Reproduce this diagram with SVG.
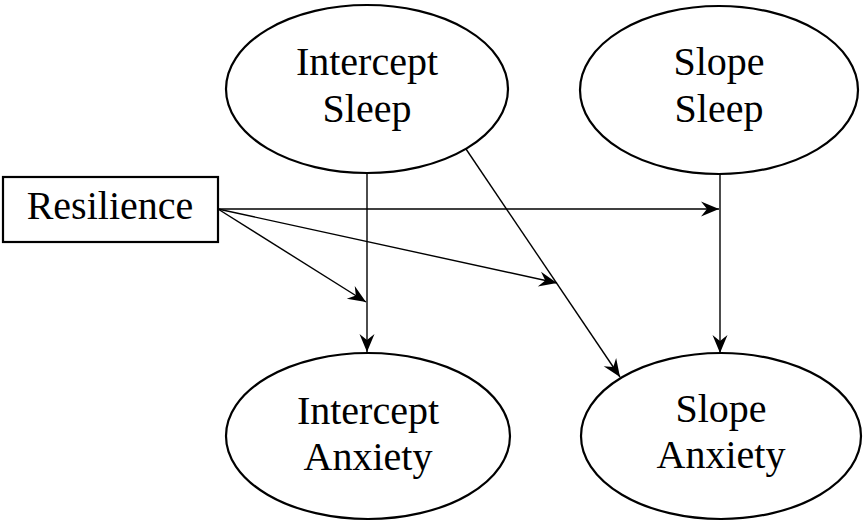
<svg xmlns="http://www.w3.org/2000/svg" width="863" height="522" viewBox="0 0 863 522">
<style>
.n{fill:#fff;stroke:#000;stroke-width:2.2}
.t{font-family:"Liberation Serif","Times New Roman",Times,serif;font-size:40px;fill:#000;text-anchor:middle}
.c{stroke:#000;stroke-width:1.4;fill:none;marker-end:url(#a)}
</style>
<defs>
<marker id="a" markerUnits="userSpaceOnUse" markerWidth="24" markerHeight="18" viewBox="-20 -9 22 18" refX="0" refY="0" orient="auto">
<path d="M0,0 L-18,-7.5 L-12,0 L-18,7.5 Z" fill="#000"/>
</marker>
</defs>
<rect width="863" height="522" fill="#fff"/>
<g id="intercept-sleep">
<ellipse class="n" cx="367" cy="89" rx="141" ry="84"/>
<text class="t" x="367" y="75">Intercept</text>
<text class="t" x="367" y="122">Sleep</text>
</g>
<g id="slope-sleep">
<ellipse class="n" cx="719" cy="90" rx="139" ry="84"/>
<text class="t" x="719" y="75">Slope</text>
<text class="t" x="719" y="122">Sleep</text>
</g>
<g id="resilience">
<rect class="n" x="3" y="177" width="215" height="65"/>
<text class="t" x="110" y="219">Resilience</text>
</g>
<g id="intercept-anxiety">
<ellipse class="n" cx="368" cy="436" rx="142" ry="83"/>
<text class="t" x="368" y="424">Intercept</text>
<text class="t" x="368" y="470">Anxiety</text>
</g>
<g id="slope-anxiety">
<ellipse class="n" cx="721" cy="436" rx="140" ry="83"/>
<text class="t" x="721" y="422">Slope</text>
<text class="t" x="721" y="468">Anxiety</text>
</g>
<g id="connectors">
<line class="c" x1="367" y1="173" x2="367" y2="352"/>
<line class="c" x1="720" y1="174" x2="720" y2="353"/>
<line class="c" x1="466" y1="149" x2="620" y2="377"/>
<line class="c" x1="218" y1="209" x2="719" y2="209"/>
<line class="c" x1="218" y1="209" x2="366" y2="302"/>
<line class="c" x1="218" y1="209" x2="557" y2="283"/>
</g>
</svg>
